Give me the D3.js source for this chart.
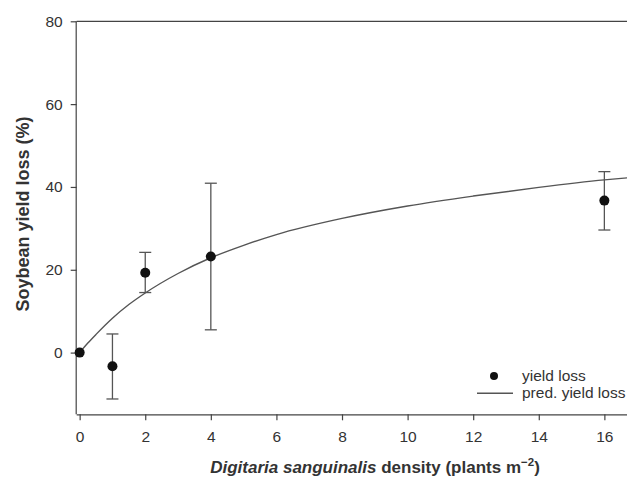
<!DOCTYPE html>
<html>
<head>
<meta charset="utf-8">
<script src="https://cdn.jsdelivr.net/npm/d3@7"></script>
<style>
  html, body { margin: 0; padding: 0; background: #fff; }
  svg { display: block; font-family: "Liberation Sans", Arial, sans-serif; }
</style>
</head>
<body>
<svg id="chart" width="627" height="481"></svg>
<script>
// Observed yield loss (means with error bars)
const density = [0, 1, 2, 4, 16];
const yieldLoss = [0, -3.3, 19.3, 23.2, 36.7];
const errLow = [0, -11.2, 14.5, 5.5, 29.6];
const errHigh = [0, 4.5, 24.2, 40.9, 43.7];

// Predicted yield loss curve
const predDensity = [0, 0.25, 0.5, 1, 1.5, 2, 3, 4, 5, 6, 8, 10, 12, 14, 16, 16.7];
const predLoss = [0, 2.3, 4.4, 8.3, 11.6, 14.4, 19.1, 22.9, 25.9, 28.5, 32.4, 35.4, 37.8, 39.9, 41.7, 42.2];

const xTicks = [0, 2, 4, 6, 8, 10, 12, 14, 16];
const yTicks = [0, 20, 40, 60, 80];

(function () {
const svg = d3.select("#chart");
const pLeft = 76.7, pTop = 21.3, pBottom = 414.3, pRight = 627;

const x = d3.scaleLinear().domain([-0.09, 16.69]).range([pLeft, pRight]);
const y = d3.scaleLinear().domain([-14.9, 80]).range([pBottom, pTop]);

const axisColor = "#444";
const textColor = "#333";
const tickFont = 15.5;

// Frame (top border)
svg.append("line")
  .attr("x1", pLeft).attr("x2", pRight + 5)
  .attr("y1", pTop).attr("y2", pTop)
  .attr("stroke", axisColor).attr("stroke-width", 1.2);

// X axis
const xAxis = svg.append("g")
  .attr("transform", `translate(0,${pBottom})`)
  .call(d3.axisBottom(x).tickValues(xTicks).tickSize(6).tickPadding(11).tickSizeOuter(0));
xAxis.select(".domain").attr("stroke", axisColor).attr("stroke-width", 1.2)
  .attr("d", `M${pLeft},0.5H${pRight + 5}`);
xAxis.selectAll(".tick line").attr("stroke", axisColor).attr("stroke-width", 1.2);
xAxis.selectAll(".tick text")
  .attr("fill", textColor).attr("font-size", tickFont)
  .attr("font-family", "Liberation Sans, Arial, sans-serif");

// Y axis
const yAxis = svg.append("g")
  .attr("transform", `translate(${pLeft},0)`)
  .call(d3.axisLeft(y).tickValues(yTicks).tickSize(6).tickPadding(8).tickSizeOuter(0));
yAxis.select(".domain").attr("stroke", axisColor).attr("stroke-width", 1.2)
  .attr("d", `M-0.5,${pTop}V${pBottom}`);
yAxis.selectAll(".tick line").attr("stroke", axisColor).attr("stroke-width", 1.2);
yAxis.selectAll(".tick text")
  .attr("fill", textColor).attr("font-size", tickFont)
  .attr("font-family", "Liberation Sans, Arial, sans-serif");

// Clip plot area
svg.append("clipPath").attr("id", "clip")
  .append("rect").attr("x", pLeft).attr("y", pTop).attr("width", pRight - pLeft).attr("height", pBottom - pTop);

// Predicted curve
const predData = predDensity.map((d, i) => ({ x: d, y: predLoss[i] }));
svg.append("path")
  .datum(predData)
  .attr("clip-path", "url(#clip)")
  .attr("fill", "none")
  .attr("stroke", "#555")
  .attr("stroke-width", 1.4)
  .attr("d", d3.line().x(d => x(d.x)).y(d => y(d.y)).curve(d3.curveMonotoneX));

// Error bars
const obs = density.map((d, i) => ({ x: d, y: yieldLoss[i], lo: errLow[i], hi: errHigh[i] }));
const eb = svg.append("g").attr("stroke", "#555").attr("stroke-width", 1.3);
obs.filter(d => d.hi !== d.lo).forEach(d => {
  eb.append("line").attr("x1", x(d.x)).attr("x2", x(d.x)).attr("y1", y(d.lo)).attr("y2", y(d.hi));
  eb.append("line").attr("x1", x(d.x) - 6).attr("x2", x(d.x) + 6).attr("y1", y(d.lo)).attr("y2", y(d.lo));
  eb.append("line").attr("x1", x(d.x) - 6).attr("x2", x(d.x) + 6).attr("y1", y(d.hi)).attr("y2", y(d.hi));
});

// Points
svg.append("g").selectAll("circle").data(obs).join("circle")
  .attr("cx", d => x(d.x)).attr("cy", d => y(d.y)).attr("r", 5)
  .attr("fill", "#111");

// Legend
const lg = svg.append("g");
lg.append("circle").attr("cx", 494).attr("cy", 376).attr("r", 4).attr("fill", "#111");
lg.append("text").attr("x", 522).attr("y", 381).attr("font-size", 15.5).attr("fill", textColor).text("yield loss");
lg.append("line").attr("x1", 477).attr("x2", 513).attr("y1", 393.3).attr("y2", 393.3).attr("stroke", "#555").attr("stroke-width", 1.4);
lg.append("text").attr("x", 522).attr("y", 397.5).attr("font-size", 15.5).attr("fill", textColor).text("pred. yield loss");

// Axis titles
const xt = svg.append("text")
  .attr("x", 375).attr("y", 473)
  .attr("text-anchor", "middle")
  .attr("font-size", 17).attr("font-weight", "bold").attr("fill", textColor);
xt.append("tspan").attr("font-style", "italic").text("Digitaria sanguinalis");
xt.append("tspan").text(" density (plants m");
xt.append("tspan").attr("dy", -7).attr("font-size", 11.5).text("\u22122");
xt.append("tspan").attr("dy", 7).text(")");

svg.append("text")
  .attr("transform", `translate(28.5,214) rotate(-90)`)
  .attr("text-anchor", "middle")
  .attr("font-size", 18).attr("font-weight", "bold").attr("fill", textColor)
  .text("Soybean yield loss (%)");
})();
</script>
</body>
</html>
